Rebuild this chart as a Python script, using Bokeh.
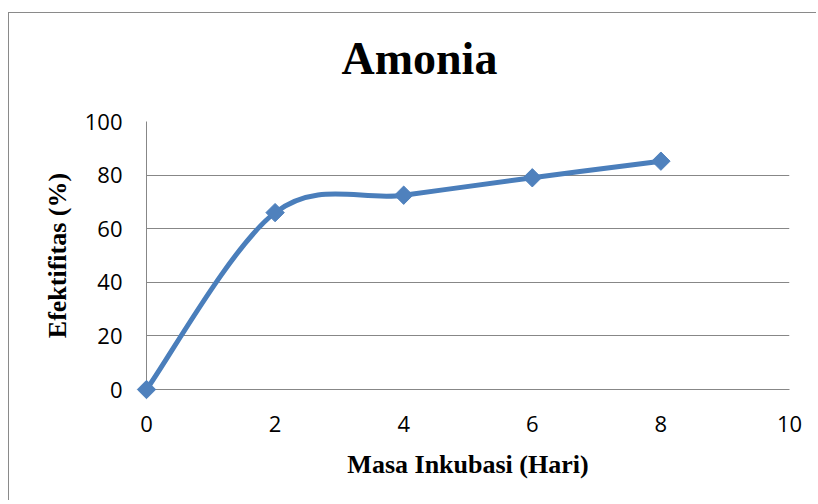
import numpy as np
from bokeh.plotting import figure
from bokeh.models import FixedTicker, Range1d, ColumnDataSource, Title
from bokeh.embed import file_html
from bokeh.resources import INLINE

# ---- data ----
masa_inkubasi = [0, 2, 4, 6, 8]          # hari
efektifitas = [0, 66, 72.5, 79, 85.2]    # %
x_ticks = [0, 2, 4, 6, 8, 10]
y_ticks = [0, 20, 40, 60, 80, 100]
title_text = "Amonia"
x_label = "Masa Inkubasi (Hari)"
y_label = "Efektifitas (%)"

GRID = "#878787"
LINE = "#4A7EBB"
MARK = "#4F81BD"

p = figure(width=808, height=488, output_backend="svg", toolbar_location=None,
           x_range=Range1d(0, 10), y_range=Range1d(0, 100),
           min_border_left=137, min_border_right=28,
           min_border_top=108, min_border_bottom=112)
p.styles = {"border-top": "1px solid #8a8a8a", "border-left": "1px solid #8a8a8a",
            "margin-top": "12px", "margin-left": "8px"}
p.outline_line_color = None
p.background_fill_color = "white"
p.border_fill_color = "white"

# blank spacer between plot area and title
p.add_layout(Title(text=" ", text_font_size="20px", standoff=9), "above")

p.title.text = title_text
p.title.text_font = "Liberation Serif"
p.title.text_font_style = "bold"
p.title.text_font_size = "46px"
p.title.text_color = "black"
p.title.align = "left"
p.title.offset = 195
p.title.standoff = 10

# smooth curve (Catmull-Rom style bezier like Excel smoothing)
xs = np.array(masa_inkubasi, dtype=float)
ys = np.array(efektifitas, dtype=float)
n = len(xs)
prev_i = np.r_[0, np.arange(n - 1)]
next_i = np.r_[np.arange(1, n), n - 1]
tx = (xs[next_i] - xs[prev_i]) / 6.0
ty = (ys[next_i] - ys[prev_i]) / 6.0
p.bezier(x0=xs[:-1], y0=ys[:-1], x1=xs[1:], y1=ys[1:],
         cx0=xs[:-1] + tx[:-1], cy0=ys[:-1] + ty[:-1],
         cx1=xs[1:] - tx[1:], cy1=ys[1:] - ty[1:],
         line_color=LINE, line_width=5, line_cap="round")

src = ColumnDataSource(dict(x=masa_inkubasi, y=efektifitas))
r = p.scatter("x", "y", source=src, marker="square", angle=np.pi / 4, size=13,
              fill_color=MARK, line_color=MARK, line_width=1)
r.level = "overlay"

# axes
p.xaxis.ticker = FixedTicker(ticks=x_ticks)
p.yaxis.ticker = FixedTicker(ticks=y_ticks)
for ax in (p.xaxis[0], p.yaxis[0]):
    ax.major_tick_line_color = None
    ax.minor_tick_line_color = None
    ax.major_tick_out = 0
    ax.major_tick_in = 0
    ax.minor_tick_out = 0
    ax.minor_tick_in = 0
    ax.axis_line_color = GRID
    ax.axis_line_width = 1
    ax.major_label_text_font = "Open Sans"
    ax.major_label_text_font_size = "22px"
    ax.major_label_text_color = "black"
    ax.axis_label_text_font = "Liberation Serif"
    ax.axis_label_text_font_style = "bold"
    ax.axis_label_text_font_size = "26px"
    ax.axis_label_text_color = "black"

p.xaxis.axis_label = x_label
p.yaxis.axis_label = y_label
p.xaxis.major_label_standoff = 26
p.yaxis.major_label_standoff = 24
p.xaxis.axis_label_standoff = 15
p.yaxis.axis_label_standoff = 10

p.xgrid.grid_line_color = None
p.ygrid.grid_line_color = GRID
p.ygrid.grid_line_width = 1

open("out.html", "w").write(file_html(p, INLINE))
